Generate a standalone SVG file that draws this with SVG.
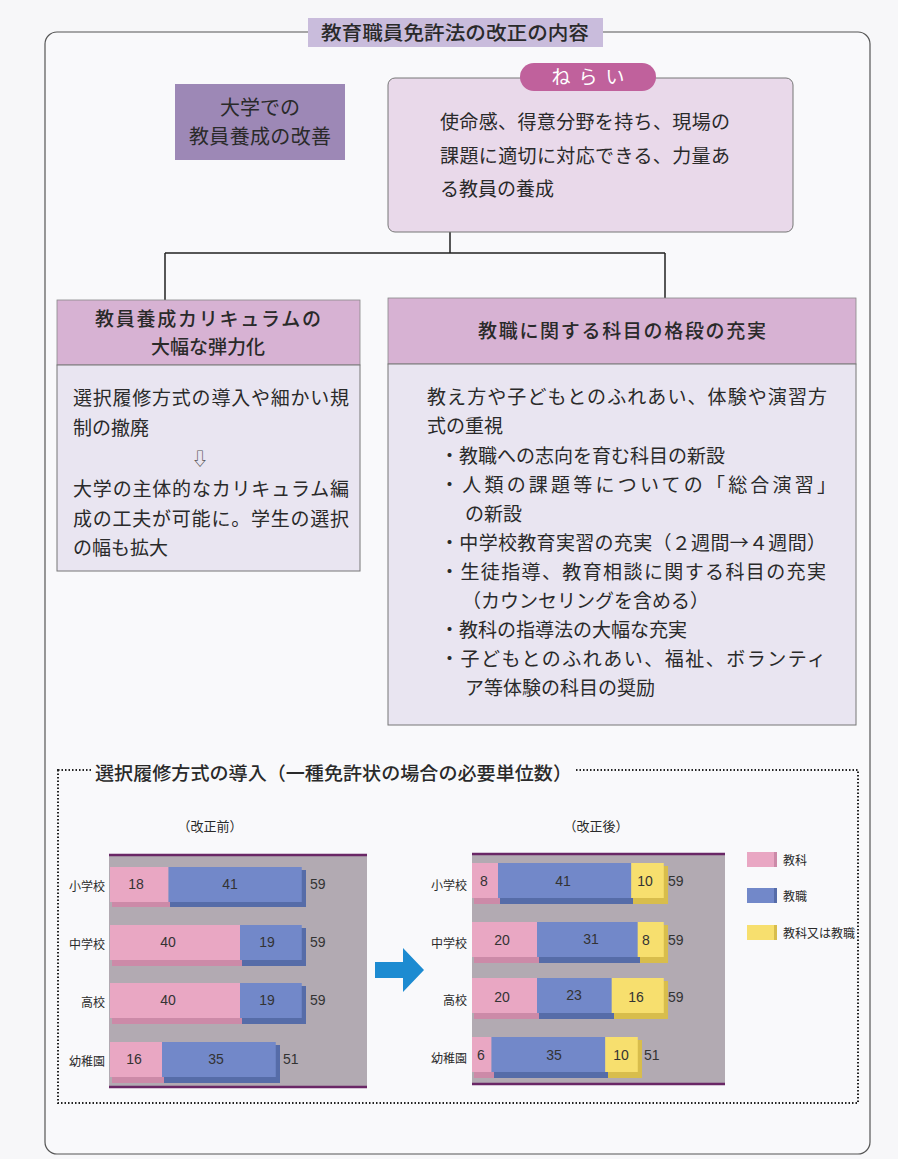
<svg xmlns="http://www.w3.org/2000/svg" width="898" height="1159" viewBox="0 0 898 1159">
<defs>
<style>
text{font-family:"Noto Sans CJK JP","Noto Sans",sans-serif;fill:#2a2a2a}
.body{font-size:19px}
.hdr{font-size:19px;font-weight:500;text-anchor:middle}
.num{font-family:"Liberation Sans",Arial,sans-serif;font-size:14px;fill:#333}
.numc{font-family:"Liberation Sans",Arial,sans-serif;font-size:14px;fill:#333;text-anchor:middle}
.row{font-size:12px;text-anchor:end}
.pk{fill:#e9a7c3}.pkd{fill:#cc8aa8}
.bl{fill:#7288c9}.bld{fill:#566ca8}
.ye{fill:#f7df6e}.yed{fill:#d8bd4c}
.chartbg{fill:#b2aab2}
.pline{stroke:#6a2766;stroke-width:2.5}
</style>
</defs>
<rect x="0" y="0" width="898" height="1159" fill="#f7f7f9"/>
<rect x="45" y="32" width="825" height="1122" rx="12" fill="#f9f9fb" stroke="#555" stroke-width="1.2"/>

<g id="title">
<rect x="308" y="18" width="295" height="29" fill="#c9bcdc"/>
<text x="455" y="40" font-size="19" text-anchor="middle" font-weight="500" textLength="268" lengthAdjust="spacingAndGlyphs">教育職員免許法の改正の内容</text>
</g>

<g id="connectors" fill="none" stroke="#222" stroke-width="1.5">
<path d="M450 232 V253 M165 253 H665 M165 253 V300 M665 253 V298"/>
</g>

<g id="univ">
<rect x="175" y="84" width="170" height="76" fill="#9d88b6"/>
<text x="260" y="115" font-size="20" text-anchor="middle">大学での</text>
<text x="260" y="144" font-size="20" text-anchor="middle" textLength="142">教員養成の改善</text>
</g>

<g id="aim">
<rect x="388" y="78" width="405" height="154" rx="7" fill="#e9d9ea" stroke="#777" stroke-width="1"/>
<rect x="520" y="63" width="136" height="28" rx="14" fill="#c0619c"/>
<text x="592" y="84" font-size="19" text-anchor="middle" letter-spacing="8" style="fill:#fff">ねらい</text>
<text class="body" x="440" y="129" textLength="290">使命感、得意分野を持ち、現場の</text>
<text class="body" x="440" y="163" textLength="290">課題に適切に対応できる、力量あ</text>
<text class="body" x="440" y="196">る教員の養成</text>
</g>

<g id="flex">
<rect x="57" y="300" width="303" height="65" fill="#d7b2d3" stroke="#888" stroke-width="0.8"/>
<text class="hdr" x="208" y="326" textLength="226">教員養成カリキュラムの</text>
<text class="hdr" x="208" y="354">大幅な弾力化</text>
<rect x="57" y="365" width="303" height="206" fill="#e9e5f1" stroke="#777" stroke-width="1"/>
<text class="body" x="73" y="405" textLength="276">選択履修方式の導入や細かい規</text>
<text class="body" x="73" y="435">制の撤廃</text>
<text x="200" y="465" text-anchor="middle" font-size="17" style="fill:#555">⇩</text>
<text class="body" x="73" y="496" textLength="276">大学の主体的なカリキュラム編</text>
<text class="body" x="73" y="526" textLength="276">成の工夫が可能に。学生の選択</text>
<text class="body" x="73" y="555">の幅も拡大</text>
</g>

<g id="subjects">
<rect x="388" y="298" width="468" height="66" fill="#d7b2d3" stroke="#888" stroke-width="0.8"/>
<text class="hdr" x="622" y="338" textLength="288">教職に関する科目の格段の充実</text>
<rect x="388" y="364" width="468" height="361" fill="#e9e5f1" stroke="#777" stroke-width="1"/>
<text class="body" x="427" y="404" textLength="400">教え方や子どもとのふれあい、体験や演習方</text>
<text class="body" x="427" y="433">式の重視</text>
<text class="body" x="440" y="463">・教職への志向を育む科目の新設</text>
<text class="body" x="440" y="492" textLength="396">・人類の課題等についての「総合演習」</text>
<text class="body" x="465" y="521">の新設</text>
<text class="body" x="440" y="550" textLength="386">・中学校教育実習の充実（２週間→４週間）</text>
<text class="body" x="440" y="579" textLength="386">・生徒指導、教育相談に関する科目の充実</text>
<text class="body" x="462" y="608">（カウンセリングを含める）</text>
<text class="body" x="440" y="637">・教科の指導法の大幅な充実</text>
<text class="body" x="440" y="666" textLength="386">・子どもとのふれあい、福祉、ボランティ</text>
<text class="body" x="465" y="695">ア等体験の科目の奨励</text>
</g>

<g id="chart-section">
<rect x="58" y="770" width="800" height="333" fill="none" stroke="#222" stroke-width="2" stroke-dasharray="1.5 2"/>
<rect x="92" y="760" width="484" height="24" fill="#f9f9fb"/>
<text x="95" y="780" font-size="18.5" font-weight="500" textLength="477" lengthAdjust="spacingAndGlyphs">選択履修方式の導入（一種免許状の場合の必要単位数）</text>
<text x="210" y="831" font-size="13" text-anchor="middle">（改正前）</text>
<text x="596" y="831" font-size="13" text-anchor="middle">（改正後）</text>
</g>

<g id="chart-before">
<rect class="chartbg" x="109" y="854" width="258" height="234"/>
<line class="pline" x1="109" y1="855" x2="367" y2="855"/>
<line class="pline" x1="109" y1="1087" x2="367" y2="1087"/>
<rect class="pkd" x="112" y="901" width="58" height="6"/>
<rect class="bld" x="170" y="901" width="136" height="6"/>
<rect class="bld" x="301" y="870" width="5" height="37"/>
<rect class="pk" x="110" y="867" width="58.5" height="35"/>
<rect class="bl" x="168.5" y="867" width="133.25" height="35"/>
<rect class="pkd" x="112" y="960" width="130" height="6"/>
<rect class="bld" x="242" y="960" width="64" height="6"/>
<rect class="bld" x="301" y="928" width="5" height="38"/>
<rect class="pk" x="110" y="925" width="130" height="35"/>
<rect class="bl" x="240" y="925" width="61.75" height="35"/>
<rect class="pkd" x="112" y="1018" width="130" height="6"/>
<rect class="bld" x="242" y="1018" width="64" height="6"/>
<rect class="bld" x="301" y="986" width="5" height="38"/>
<rect class="pk" x="110" y="983" width="130" height="35"/>
<rect class="bl" x="240" y="983" width="61.75" height="35"/>
<rect class="pkd" x="112" y="1077" width="52" height="6"/>
<rect class="bld" x="164" y="1077" width="116" height="6"/>
<rect class="bld" x="275" y="1045" width="5" height="38"/>
<rect class="pk" x="110" y="1042" width="52" height="35"/>
<rect class="bl" x="162" y="1042" width="113.75" height="35"/>
<text class="row" x="105" y="891">小学校</text>
<text class="row" x="105" y="949">中学校</text>
<text class="row" x="105" y="1007">高校</text>
<text class="row" x="105" y="1066">幼稚園</text>
<text class="numc" x="136" y="889">18</text>
<text class="numc" x="230" y="889">41</text>
<text class="num" x="310" y="889">59</text>
<text class="numc" x="168" y="947">40</text>
<text class="numc" x="267" y="947">19</text>
<text class="num" x="310" y="947">59</text>
<text class="numc" x="168" y="1005">40</text>
<text class="numc" x="267" y="1005">19</text>
<text class="num" x="310" y="1005">59</text>
<text class="numc" x="134" y="1064">16</text>
<text class="numc" x="216" y="1064">35</text>
<text class="num" x="283" y="1064">51</text>
</g>

<g id="arrow">
<polygon points="375,962 403,962 403,948 424,970 403,992 403,978 375,978" fill="#1d8bd1"/>
</g>

<g id="chart-after">
<rect class="chartbg" x="472" y="853" width="253" height="232"/>
<line class="pline" x1="472" y1="854" x2="725" y2="854"/>
<line class="pline" x1="472" y1="1084" x2="725" y2="1084"/>
<rect class="pkd" x="474" y="898" width="26" height="6"/>
<rect class="bld" x="500" y="898" width="133" height="6"/>
<rect class="yed" x="633" y="898" width="35" height="6"/>
<rect class="yed" x="663" y="866" width="5" height="38"/>
<rect class="pk" x="472" y="863" width="26" height="35"/>
<rect class="bl" x="498" y="863" width="133.25" height="35"/>
<rect class="ye" x="631.25" y="863" width="32.5" height="35"/>
<rect class="pkd" x="474" y="957" width="65" height="6"/>
<rect class="bld" x="539" y="957" width="101" height="6"/>
<rect class="yed" x="640" y="957" width="28" height="6"/>
<rect class="yed" x="663" y="925" width="5" height="38"/>
<rect class="pk" x="472" y="922" width="65" height="35"/>
<rect class="bl" x="537" y="922" width="100.75" height="35"/>
<rect class="ye" x="637.75" y="922" width="26" height="35"/>
<rect class="pkd" x="474" y="1013" width="65" height="6"/>
<rect class="bld" x="539" y="1013" width="75" height="6"/>
<rect class="yed" x="614" y="1013" width="54" height="6"/>
<rect class="yed" x="663" y="981" width="5" height="38"/>
<rect class="pk" x="472" y="978" width="65" height="35"/>
<rect class="bl" x="537" y="978" width="74.75" height="35"/>
<rect class="ye" x="611.75" y="978" width="52" height="35"/>
<rect class="pkd" x="474" y="1072" width="20" height="6"/>
<rect class="bld" x="494" y="1072" width="114" height="6"/>
<rect class="yed" x="608" y="1072" width="34" height="6"/>
<rect class="yed" x="637" y="1040" width="5" height="38"/>
<rect class="pk" x="472" y="1037" width="19.5" height="35"/>
<rect class="bl" x="491.5" y="1037" width="113.75" height="35"/>
<rect class="ye" x="605.25" y="1037" width="32.5" height="35"/>
<text class="row" x="467" y="890">小学校</text>
<text class="row" x="467" y="948">中学校</text>
<text class="row" x="467" y="1005">高校</text>
<text class="row" x="467" y="1063">幼稚園</text>
<text class="numc" x="484" y="886">8</text>
<text class="numc" x="563" y="886">41</text>
<text class="numc" x="645" y="886">10</text>
<text class="num" x="668" y="886">59</text>
<text class="numc" x="502" y="945">20</text>
<text class="numc" x="591" y="944">31</text>
<text class="numc" x="646" y="945">8</text>
<text class="num" x="668" y="945">59</text>
<text class="numc" x="502" y="1002">20</text>
<text class="numc" x="574" y="1000">23</text>
<text class="numc" x="636" y="1002">16</text>
<text class="num" x="668" y="1002">59</text>
<text class="numc" x="481" y="1060">6</text>
<text class="numc" x="554" y="1060">35</text>
<text class="numc" x="621" y="1060">10</text>
<text class="num" x="644" y="1060">51</text>
</g>

<g id="legend">
<rect class="pk" x="747" y="852" width="30" height="15"/>
<rect class="pkd" x="774" y="852" width="3" height="15"/>
<text x="783" y="865" font-size="12">教科</text>
<rect class="bl" x="747" y="888" width="30" height="15"/>
<rect class="bld" x="774" y="888" width="3" height="15"/>
<text x="783" y="901" font-size="12">教職</text>
<rect class="ye" x="747" y="925" width="30" height="15"/>
<rect class="yed" x="774" y="925" width="3" height="15"/>
<text x="783" y="938" font-size="12">教科又は教職</text>
</g>
</svg>
